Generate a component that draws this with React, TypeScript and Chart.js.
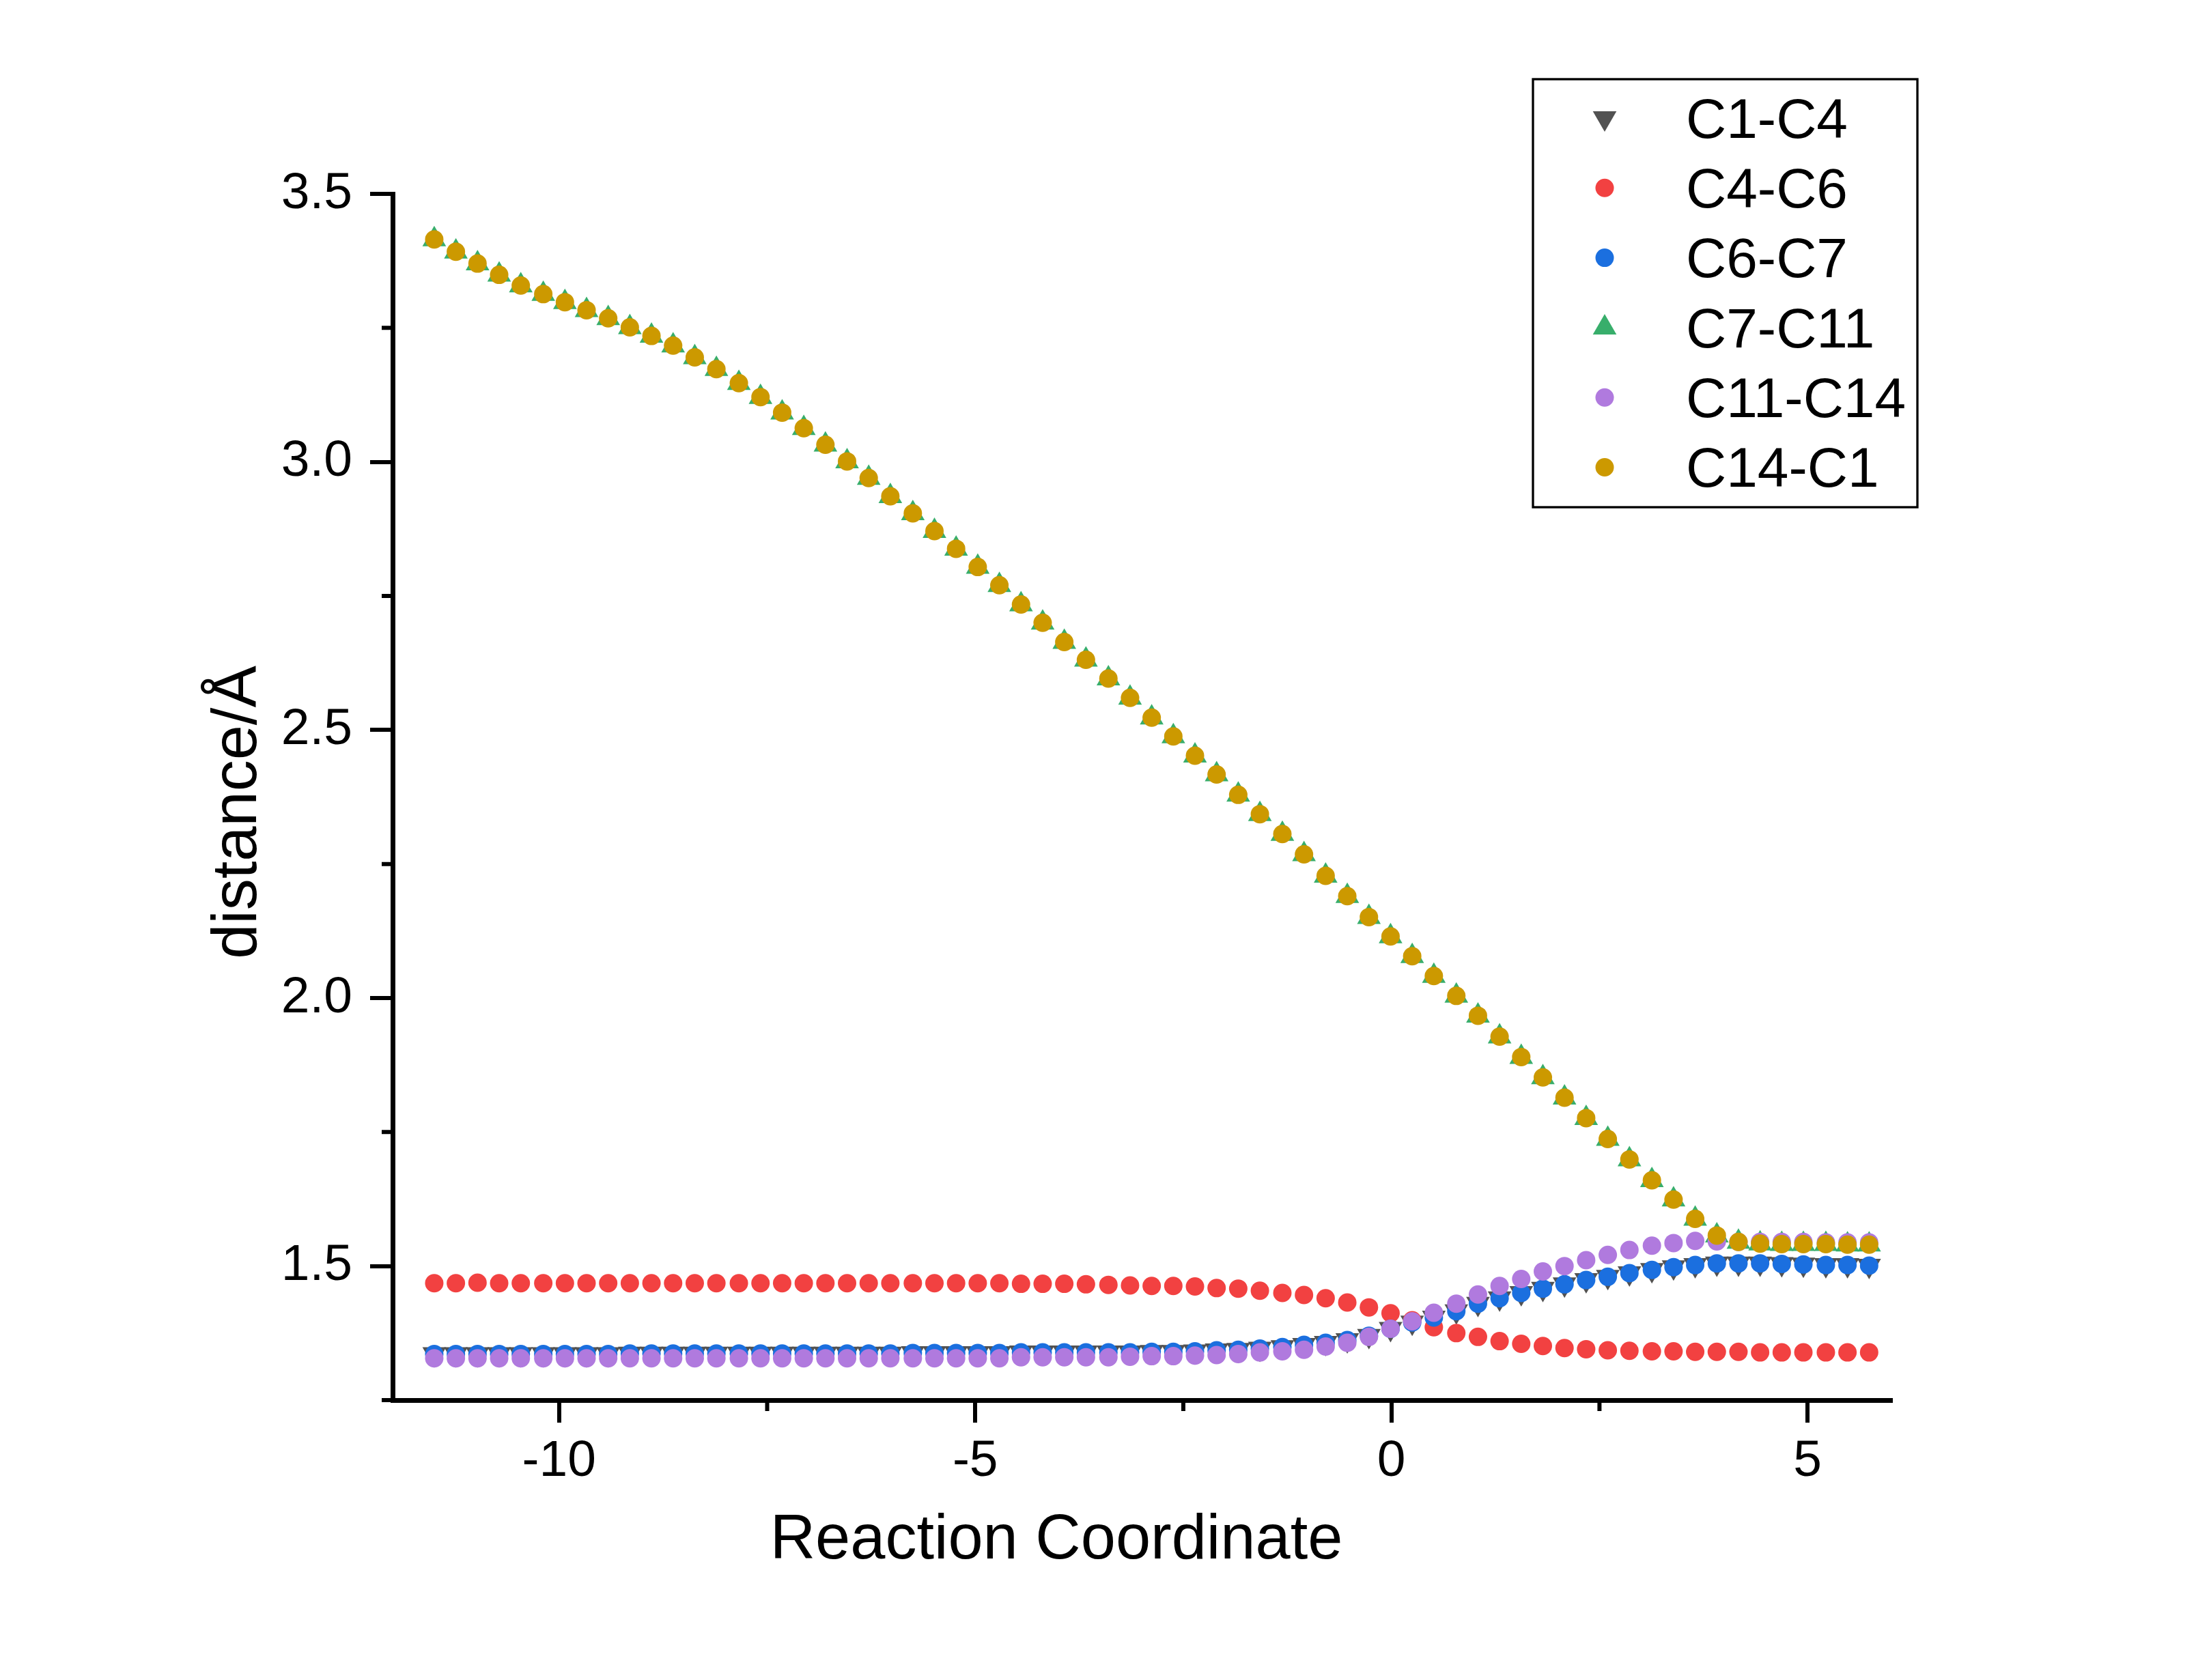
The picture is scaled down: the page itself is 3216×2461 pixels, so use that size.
import { Chart, ScatterController, PointElement, LinearScale } from "chart.js";
import { drawPoint } from "chart.js/helpers";
import { useEffect, useRef } from "react";

Chart.register(ScatterController, PointElement, LinearScale);

const FONT = "Arial, 'Liberation Sans', sans-serif";
Chart.defaults.font.family = FONT;

// reaction coordinate of each IRC point
const xCoord = [
  -11.5, -11.24, -10.98, -10.72, -10.46, -10.19, -9.93, -9.67, -9.41, -9.15,
  -8.89, -8.63, -8.37, -8.11, -7.84, -7.58, -7.32, -7.06, -6.8, -6.54,
  -6.28, -6.02, -5.75, -5.49, -5.23, -4.97, -4.71, -4.45, -4.19, -3.93,
  -3.67, -3.4, -3.14, -2.88, -2.62, -2.36, -2.1, -1.84, -1.58, -1.31,
  -1.05, -0.79, -0.53, -0.27, -0.01, 0.25, 0.51, 0.78, 1.04, 1.3,
  1.56, 1.82, 2.08, 2.34, 2.6, 2.86, 3.13, 3.39, 3.65, 3.91,
  4.17, 4.43, 4.69, 4.95, 5.22, 5.48, 5.74,
];

const c1c4 = [
  1.336, 1.336, 1.336, 1.336, 1.336, 1.336, 1.336, 1.336, 1.336, 1.337,
  1.337, 1.337, 1.337, 1.337, 1.337, 1.337, 1.337, 1.337, 1.337, 1.337,
  1.337, 1.337, 1.338, 1.338, 1.338, 1.338, 1.338, 1.339, 1.339, 1.339,
  1.339, 1.339, 1.339, 1.34, 1.34, 1.341, 1.343, 1.344, 1.346, 1.349,
  1.353, 1.357, 1.362, 1.37, 1.383, 1.395, 1.404, 1.416, 1.43, 1.44,
  1.45, 1.458, 1.466, 1.474, 1.48, 1.487, 1.493, 1.498, 1.502, 1.505,
  1.505, 1.505, 1.504, 1.503, 1.502, 1.502, 1.501,
];

const c4c6 = [
  1.468, 1.468, 1.469, 1.468, 1.468, 1.468, 1.468, 1.468, 1.468, 1.468,
  1.468, 1.468, 1.468, 1.468, 1.468, 1.468, 1.468, 1.468, 1.468, 1.468,
  1.468, 1.468, 1.468, 1.468, 1.468, 1.468, 1.468, 1.467, 1.467, 1.467,
  1.466, 1.465, 1.464, 1.463, 1.463, 1.462, 1.459, 1.458, 1.454, 1.45,
  1.446, 1.44, 1.432, 1.423, 1.412, 1.399, 1.386, 1.375, 1.368, 1.36,
  1.355, 1.351, 1.347, 1.345, 1.343, 1.342, 1.341, 1.341, 1.34, 1.34,
  1.34, 1.339, 1.339, 1.339, 1.339, 1.339, 1.339,
];

const c6c7 = [
  1.336, 1.336, 1.336, 1.336, 1.336, 1.336, 1.336, 1.336, 1.336, 1.337,
  1.337, 1.337, 1.337, 1.337, 1.337, 1.337, 1.337, 1.337, 1.337, 1.337,
  1.337, 1.337, 1.338, 1.338, 1.338, 1.338, 1.338, 1.339, 1.339, 1.339,
  1.339, 1.339, 1.339, 1.34, 1.34, 1.341, 1.343, 1.344, 1.346, 1.349,
  1.353, 1.357, 1.362, 1.37, 1.383, 1.395, 1.404, 1.416, 1.43, 1.44,
  1.45, 1.458, 1.466, 1.474, 1.48, 1.487, 1.493, 1.498, 1.502, 1.505,
  1.505, 1.505, 1.504, 1.503, 1.502, 1.502, 1.501,
];

const c7c11 = [
  3.415, 3.392, 3.37, 3.349, 3.329, 3.313, 3.298, 3.283, 3.268, 3.251,
  3.235, 3.217, 3.195, 3.173, 3.147, 3.121, 3.092, 3.063, 3.032, 3.001,
  2.97, 2.936, 2.904, 2.871, 2.838, 2.804, 2.77, 2.734, 2.7, 2.664,
  2.631, 2.596, 2.56, 2.523, 2.488, 2.452, 2.417, 2.379, 2.343, 2.306,
  2.268, 2.228, 2.19, 2.151, 2.115, 2.078, 2.041, 2.004, 1.967, 1.928,
  1.89, 1.852, 1.814, 1.776, 1.737, 1.699, 1.66, 1.624, 1.588, 1.557,
  1.545, 1.542, 1.541, 1.541, 1.541, 1.54, 1.54,
];

const c11c14 = [
  1.328, 1.328, 1.328, 1.328, 1.328, 1.328, 1.328, 1.328, 1.328, 1.328,
  1.328, 1.328, 1.328, 1.328, 1.328, 1.328, 1.328, 1.328, 1.328, 1.328,
  1.328, 1.328, 1.328, 1.328, 1.328, 1.328, 1.328, 1.33, 1.33, 1.33,
  1.33, 1.33, 1.331, 1.332, 1.332, 1.333, 1.334, 1.336, 1.339, 1.341,
  1.344, 1.35, 1.357, 1.368, 1.383, 1.397, 1.413, 1.43, 1.447, 1.463,
  1.476, 1.49, 1.5, 1.511, 1.521, 1.53, 1.538, 1.543, 1.547, 1.546,
  1.545, 1.545, 1.545, 1.545, 1.544, 1.544, 1.544,
];

const c14c1 = [
  3.415, 3.392, 3.37, 3.349, 3.329, 3.313, 3.298, 3.283, 3.268, 3.251,
  3.235, 3.217, 3.195, 3.173, 3.147, 3.121, 3.092, 3.063, 3.032, 3.001,
  2.97, 2.936, 2.904, 2.871, 2.838, 2.804, 2.77, 2.734, 2.7, 2.664,
  2.631, 2.596, 2.56, 2.523, 2.488, 2.452, 2.417, 2.379, 2.343, 2.306,
  2.268, 2.228, 2.19, 2.151, 2.115, 2.078, 2.041, 2.004, 1.967, 1.928,
  1.89, 1.852, 1.814, 1.776, 1.737, 1.699, 1.66, 1.624, 1.588, 1.557,
  1.545, 1.542, 1.541, 1.541, 1.541, 1.54, 1.54,
];

const xMajor = [-10, -5, 0, 5];
const xMinor = [-7.5, -2.5, 2.5];
const yMajor = [1.5, 2.0, 2.5, 3.0, 3.5];
const yMinor = [1.25, 1.75, 2.25, 2.75, 3.25];

const xTitle = "Reaction Coordinate";
const yTitle = "distance/Å";

type Series = {
  label: string;
  values: number[];
  color: string;
  style: "circle" | "triangle";
  rotation: number;
  radius: number;
};

const series: Series[] = [
  { label: "C1-C4", values: c1c4, color: "#525252", style: "triangle", rotation: 180, radius: 20 },
  { label: "C4-C6", values: c4c6, color: "#F24141", style: "circle", rotation: 0, radius: 13.5 },
  { label: "C6-C7", values: c6c7, color: "#1B6FDF", style: "circle", rotation: 0, radius: 13.5 },
  { label: "C7-C11", values: c7c11, color: "#38AE6B", style: "triangle", rotation: 0, radius: 20 },
  { label: "C11-C14", values: c11c14, color: "#B07ADE", style: "circle", rotation: 0, radius: 13.5 },
  { label: "C14-C1", values: c14c1, color: "#CC9900", style: "circle", rotation: 0, radius: 13.5 },
];

// minor ticks, axis titles and the framed legend
const decor = {
  id: "decor",
  afterDraw(chart: Chart) {
    const ctx = chart.ctx;
    const xs = chart.scales.x;
    const ys = chart.scales.y;
    ctx.save();
    ctx.strokeStyle = "#000";
    ctx.lineWidth = 6;
    ctx.beginPath();
    for (const v of xMinor) {
      const px = xs.getPixelForValue(v);
      ctx.moveTo(px, xs.top);
      ctx.lineTo(px, xs.top + 16);
    }
    for (const v of yMinor) {
      const py = ys.getPixelForValue(v);
      ctx.moveTo(ys.right - 16, py);
      ctx.lineTo(ys.right, py);
    }
    ctx.stroke();

    ctx.fillStyle = "#000";
    ctx.textBaseline = "alphabetic";
    ctx.textAlign = "center";
    ctx.font = `92px ${FONT}`;
    ctx.fillText(xTitle, 1547, 2283);

    ctx.save();
    ctx.translate(375, 1190);
    ctx.rotate(-Math.PI / 2);
    ctx.font = `92px ${FONT}`;
    ctx.fillText(yTitle, 0, 0);
    ctx.restore();

    // legend
    ctx.lineWidth = 3.3;
    ctx.strokeRect(2245, 116, 563, 627);
    ctx.textAlign = "left";
    ctx.font = `82px ${FONT}`;
    series.forEach((s, i) => {
      const cy = 173 + i * 102.3;
      ctx.fillStyle = s.color;
      drawPoint(
        ctx,
        { pointStyle: s.style, radius: s.radius, rotation: s.rotation, borderWidth: 0 },
        2350,
        cy
      );
      ctx.fillStyle = "#000";
      ctx.fillText(s.label, 2469, 201.7 + i * 102.3);
    });
    ctx.restore();
  },
};

function DistanceChart() {
  const canvasRef = useRef<HTMLCanvasElement>(null);
  const chartRef = useRef<Chart | null>(null);

  useEffect(() => {
    if (!canvasRef.current) return;

    chartRef.current = new Chart(canvasRef.current, {
      type: "scatter",
      data: {
        datasets: series.map((s, i) => ({
          label: s.label,
          data: s.values.map((v, k) => ({ x: xCoord[k], y: v })),
          pointStyle: s.style,
          pointRotation: s.rotation,
          pointRadius: s.radius,
          pointBackgroundColor: s.color,
          pointBorderColor: s.color,
          pointBorderWidth: 0,
          order: series.length - 1 - i,
        })),
      },
      options: {
        animation: false,
        responsive: true,
        maintainAspectRatio: false,
        devicePixelRatio: 1,
        events: [],
        layout: {
          padding: { top: 284, right: 447, bottom: 0, left: 0 },
        },
        plugins: {
          legend: { display: false },
          tooltip: { enabled: false },
        },
        scales: {
          x: {
            type: "linear",
            min: -12,
            max: 6,
            afterFit: (s) => {
              s.height = 410;
            },
            afterBuildTicks: (s) => {
              s.ticks = xMajor.map((v) => ({ value: v }));
            },
            grid: {
              drawOnChartArea: false,
              drawTicks: true,
              tickLength: 33,
              lineWidth: 6,
              color: "#000",
            },
            border: { display: true, width: 7, color: "#000" },
            ticks: {
              color: "#000",
              font: { size: 75 },
              padding: 12,
              maxRotation: 0,
              autoSkip: false,
              callback: (v) => String(v),
            },
          },
          y: {
            type: "linear",
            min: 1.25,
            max: 3.5,
            afterFit: (s) => {
              s.width = 575;
            },
            afterBuildTicks: (s) => {
              s.ticks = yMajor.map((v) => ({ value: v }));
            },
            grid: {
              drawOnChartArea: false,
              drawTicks: true,
              tickLength: 33,
              lineWidth: 6,
              color: "#000",
            },
            border: { display: true, width: 7, color: "#000" },
            ticks: {
              color: "#000",
              font: { size: 75 },
              padding: 26,
              autoSkip: false,
              callback: (v) => Number(v).toFixed(1),
            },
          },
        },
      },
      plugins: [decor],
    });

    return () => chartRef.current?.destroy();
  }, []);

  return (
    <div
      style={{
        position: "absolute",
        left: 0,
        top: 0,
        width: 3216,
        height: 2461,
        background: "#fff",
      }}
    >
      <canvas ref={canvasRef}></canvas>
    </div>
  );
}

export default function App() {
  return <DistanceChart />;
}
